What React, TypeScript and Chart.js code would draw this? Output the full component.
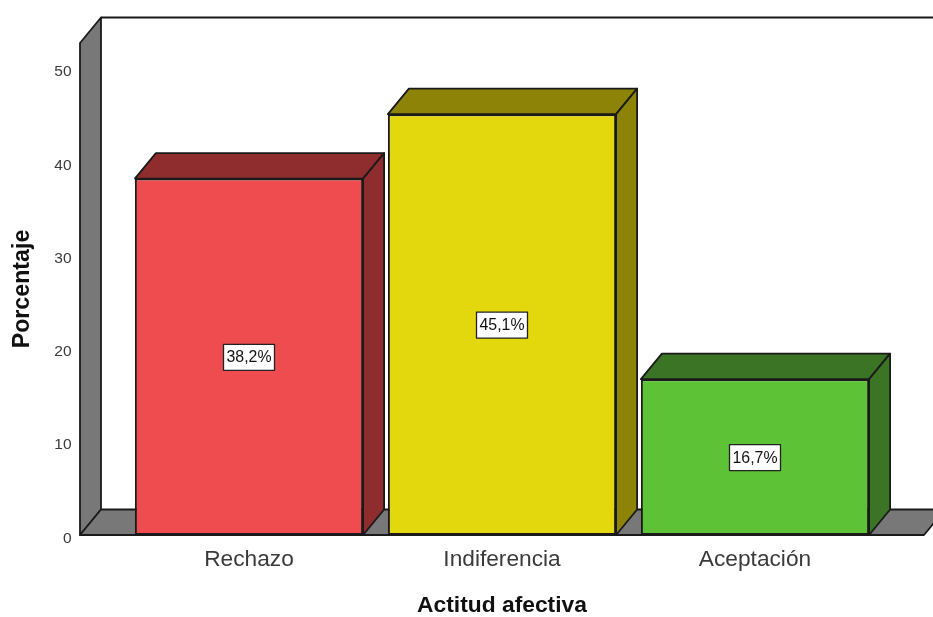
import React, { useEffect, useRef } from "react";
import { Chart, registerables } from "chart.js";

Chart.register(...registerables);

const categories = ["Rechazo", "Indiferencia", "Aceptación"];
const percentages = [38.2, 45.1, 16.7];
const valueLabels = ["38,2%", "45,1%", "16,7%"];
const frontColors = ["#EE4C4E", "#E3D80E", "#5EC237"];
const shadeColors = ["#8E2C2E", "#8C8307", "#3A7424"];
const yTicks = [0, 10, 20, 30, 40, 50];
const xTitle = "Actitud afectiva";
const yTitle = "Porcentaje";

const FONT = '"Liberation Sans", Arial, sans-serif';
const INK = "#1a1a1a";
const WALL = "#787878";
const DEPTH_X = 21;
const DEPTH_Y = 25.5;
const WALL_LEFT_GAP = 42.5;
const WALL_RIGHT_GAP = 42.5;

function polygon(ctx: CanvasRenderingContext2D, pts: number[][], fill: string | null) {
  ctx.beginPath();
  pts.forEach(([x, y], i) => (i ? ctx.lineTo(x, y) : ctx.moveTo(x, y)));
  ctx.closePath();
  if (fill) {
    ctx.fillStyle = fill;
    ctx.fill();
  }
  ctx.stroke();
}

// Grey side wall, floor and the open back wall behind the bars.
const wallsPlugin = {
  id: "walls",
  beforeDatasetsDraw(chart: any) {
    const { ctx, chartArea } = chart;
    const { top, bottom, left, right } = chartArea;
    const x0 = left - WALL_LEFT_GAP;
    const x1 = right + WALL_RIGHT_GAP;
    ctx.save();
    ctx.strokeStyle = INK;
    ctx.lineWidth = 1.8;
    ctx.lineJoin = "round";
    polygon(ctx, [[x0, top], [x0 + DEPTH_X, top - DEPTH_Y], [x0 + DEPTH_X, bottom - DEPTH_Y], [x0, bottom]], WALL);
    polygon(ctx, [[x0, bottom], [x0 + DEPTH_X, bottom - DEPTH_Y], [x1 + DEPTH_X, bottom - DEPTH_Y], [x1, bottom]], WALL);
    ctx.beginPath();
    ctx.moveTo(x0 + DEPTH_X, top - DEPTH_Y);
    ctx.lineTo(chart.width + 5, top - DEPTH_Y);
    ctx.stroke();
    ctx.restore();
  },
};

// Top and side faces of each bar, plus the boxed percentage label at its centre.
const barFacesPlugin = {
  id: "barFaces",
  afterDatasetsDraw(chart: any) {
    const { ctx } = chart;
    const bars = chart.getDatasetMeta(0).data;
    ctx.save();
    ctx.strokeStyle = INK;
    ctx.lineWidth = 1.8;
    ctx.lineJoin = "round";
    bars.forEach((bar: any, i: number) => {
      const l = bar.x - bar.width / 2;
      const r = bar.x + bar.width / 2;
      const t = bar.y;
      const b = bar.base;
      polygon(ctx, [[l, t], [l + DEPTH_X, t - DEPTH_Y], [r + DEPTH_X, t - DEPTH_Y], [r, t]], shadeColors[i]);
      polygon(ctx, [[r, t], [r + DEPTH_X, t - DEPTH_Y], [r + DEPTH_X, b - DEPTH_Y], [r, b]], shadeColors[i]);
      ctx.beginPath();
      ctx.moveTo(l, b);
      ctx.lineTo(r, b);
      ctx.stroke();
    });
    ctx.font = `16.5px ${FONT}`;
    ctx.textAlign = "center";
    ctx.textBaseline = "middle";
    bars.forEach((bar: any, i: number) => {
      const cy = (bar.y + bar.base) / 2 + 0.5;
      ctx.fillStyle = "#ffffff";
      ctx.strokeStyle = "#222222";
      ctx.lineWidth = 1.3;
      ctx.beginPath();
      ctx.rect(bar.x - 25.5, cy - 13, 51, 26);
      ctx.fill();
      ctx.stroke();
      ctx.fillStyle = "#111111";
      ctx.fillText(valueLabels[i], bar.x, cy + 0.5, 45);
    });
    ctx.restore();
  },
};

export default function App() {
  const canvasRef = useRef<HTMLCanvasElement>(null);

  useEffect(() => {
    const chart = new Chart(canvasRef.current!, {
      type: "bar",
      data: {
        labels: categories,
        datasets: [
          {
            data: percentages,
            backgroundColor: frontColors,
            borderColor: INK,
            borderWidth: 2,
            borderSkipped: false,
            barPercentage: 0.902,
            categoryPercentage: 1,
          },
        ],
      },
      options: {
        responsive: false,
        animation: false,
        layout: { padding: { top: 43, right: 51.5, left: 0, bottom: 0 } },
        plugins: { legend: { display: false }, tooltip: { enabled: false } },
        scales: {
          x: {
            grid: { display: false, drawTicks: false },
            border: { display: false },
            ticks: { color: "#3a3a3a", font: { family: FONT, size: 22.7 }, padding: 11, maxRotation: 0 },
            title: {
              display: true,
              text: xTitle,
              color: "#111111",
              font: { family: FONT, size: 22.8, weight: "bold" },
              padding: { top: 0, bottom: -2 },
            },
            afterFit(scale: any) {
              scale.height = 82;
            },
          },
          y: {
            min: 0,
            max: 52.73,
            grid: { display: false, drawTicks: false },
            border: { display: false },
            afterBuildTicks(scale: any) {
              scale.ticks = yTicks.map((value) => ({ value }));
            },
            ticks: { color: "#3a3a3a", font: { family: FONT, size: 15.5 }, padding: 51, labelOffset: 3.5 },
            title: {
              display: true,
              text: yTitle,
              color: "#111111",
              font: { family: FONT, size: 23.2, weight: "bold" },
              padding: { top: 9, bottom: 0 },
            },
            afterFit(scale: any) {
              // The wide tick padding would otherwise inset the plot area vertically.
              scale.width = 122.5;
              scale.paddingTop = 0;
              scale.paddingBottom = 0;
            },
          },
        },
      },
      plugins: [wallsPlugin, barFacesPlugin],
    } as any);
    return () => chart.destroy();
  }, []);

  return (
    <div style={{ position: "fixed", left: 0, top: 0, width: 933, height: 617, background: "#ffffff" }}>
      <canvas ref={canvasRef} width={933} height={617} style={{ display: "block" }} />
    </div>
  );
}
